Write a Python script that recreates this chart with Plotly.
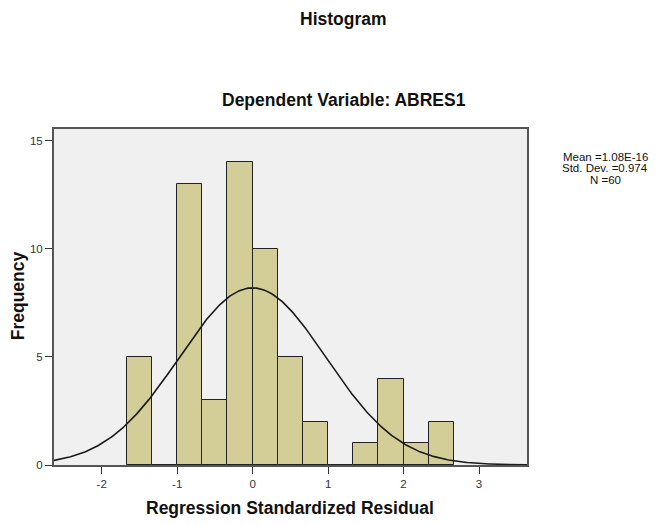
import numpy as np
import plotly.graph_objects as go

# Histogram data (bin width 1/3)
bin_width = 1 / 3
bin_left = [-5/3, -4/3, -1, -2/3, -1/3, 0, 1/3, 2/3, 1, 4/3, 5/3, 2, 7/3]
counts = [5, 0, 13, 3, 14, 10, 5, 2, 0, 1, 4, 1, 2]

mean_val = 1.08e-16
std_val = 0.974
n_val = 60
stats_lines = ["Mean =1.08E-16", "Std. Dev. =0.974", "N =60"]

x_ticks = [-2, -1, 0, 1, 2, 3]
y_ticks = [0, 5, 10, 15]
x_range = [-2.632, 3.636]
y_range = [0, 15.54]

centers = [b + bin_width / 2 for b in bin_left]

xs = np.linspace(x_range[0], x_range[1], 400)
ys = n_val * bin_width * np.exp(-0.5 * ((xs - mean_val) / std_val) ** 2) / (std_val * np.sqrt(2 * np.pi))

# layout geometry (page pixels; body has 8px default offset)
OFF = 8
W, H = 659, 525
PX0, PX1, PY0, PY1 = 54.0 - OFF, 527.5 - OFF, 129.0 - OFF, 465.5 - OFF


def px(xp):
    return ((xp - OFF) - PX0) / (PX1 - PX0)


def py(yp):
    return (PY1 - (yp - OFF)) / (PY1 - PY0)


fig = go.Figure()
fig.add_trace(go.Bar(
    x=centers, y=counts, width=bin_width,
    marker=dict(color="#D3CE97", line=dict(color="#222222", width=1)),
    showlegend=False, hoverinfo="skip",
))
fig.add_trace(go.Scatter(
    x=xs, y=ys, mode="lines",
    line=dict(color="#1a1a1a", width=1.6),
    showlegend=False, hoverinfo="skip",
))

FONT = "Liberation Sans, Arial, sans-serif"
TITLE_C = "#111111"

annotations = [
    dict(text="<b>Histogram</b>", x=px(344), y=py(19)),
    dict(text="<b>Dependent Variable: ABRES1</b>", x=px(344), y=py(100)),
    dict(text="<b>Regression Standardized Residual</b>", x=px(290), y=py(509)),
    dict(text="<b>Frequency</b>", x=px(18), y=py(296.5), textangle=-90),
]
for a in annotations:
    a.update(xref="paper", yref="paper", xanchor="center", yanchor="middle",
             showarrow=False, font=dict(family=FONT, size=17.5, color=TITLE_C))

for i, line in enumerate(stats_lines):
    annotations.append(dict(
        text=line, xref="paper", yref="paper", x=px(606), y=py(157 + 11.5 * i),
        xanchor="center", yanchor="middle", showarrow=False,
        font=dict(family=FONT, size=11.5, color="#111111"),
    ))

axis_common = dict(
    ticks="outside", ticklen=7, tickcolor="#333333", tickwidth=1,
    showgrid=False, zeroline=False,
    showline=True, linecolor="#555555", linewidth=2, mirror=True,
    tickfont=dict(family=FONT, size=11.5, color="#333333"),
)

fig.update_layout(
    width=W, height=H,
    margin=dict(l=PX0, r=W - PX1, t=PY0, b=H - PY1),
    paper_bgcolor="white",
    plot_bgcolor="#F0F0F0",
    bargap=0,
    font=dict(family=FONT, size=11, color="#222222"),
    xaxis=dict(range=x_range, tickvals=x_ticks, ticktext=[str(t) for t in x_ticks], **axis_common),
    yaxis=dict(range=y_range, tickvals=y_ticks, ticktext=[str(t) for t in y_ticks], **axis_common),
    annotations=annotations,
)

fig.write_html("out.html")
